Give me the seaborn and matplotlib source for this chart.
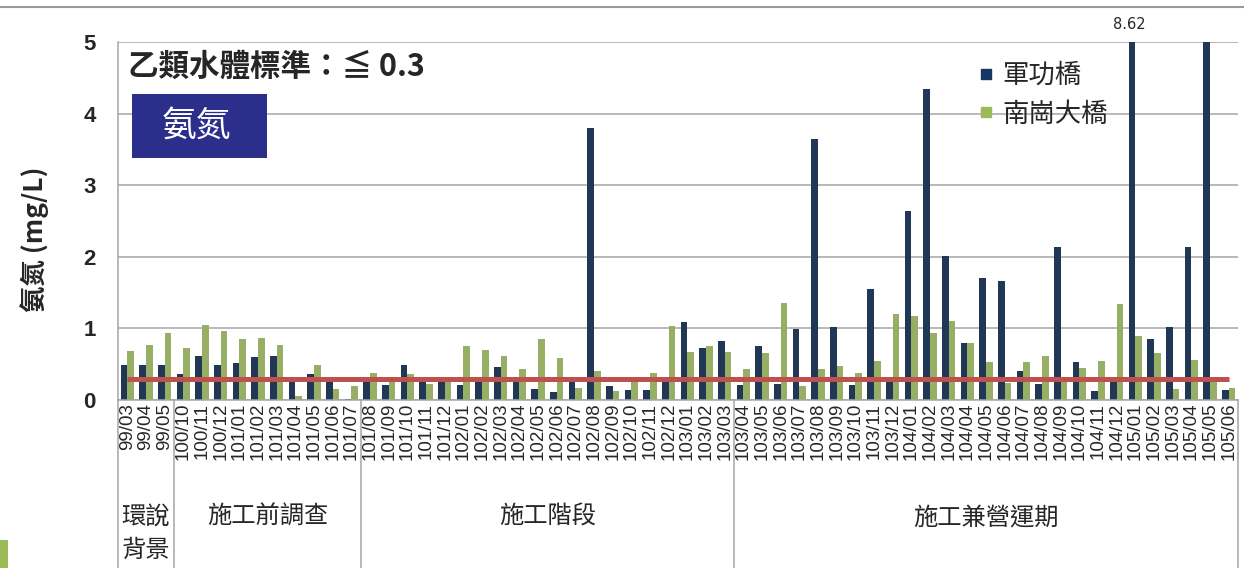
import numpy as np
import pandas as pd
import matplotlib
matplotlib.use("Agg")
import matplotlib.pyplot as plt
from matplotlib.lines import Line2D
from matplotlib.patches import Rectangle
from matplotlib.transforms import blended_transform_factory
import seaborn as sns

# sampling months (ROC year/month)
dates = [
    "99/03", "99/04", "99/05",
    "100/10", "100/11", "100/12", "101/01", "101/02", "101/03", "101/04",
    "101/05", "101/06", "101/07",
    "101/08", "101/09", "101/10", "101/11", "101/12", "102/01", "102/02",
    "102/03", "102/04", "102/05", "102/06", "102/07", "102/08", "102/09",
    "102/10", "102/11", "102/12", "103/01", "103/02", "103/03",
    "103/04", "103/05", "103/06", "103/07", "103/08", "103/09", "103/10",
    "103/11", "103/12", "104/01", "104/02", "104/03", "104/04", "104/05",
    "104/06", "104/07", "104/08", "104/09", "104/10", "104/11", "104/12",
    "105/01", "105/02", "105/03", "105/04", "105/05", "105/06",
]

junggong = [
    0.49, 0.49, 0.49,
    0.36, 0.61, 0.49, 0.52, 0.60, 0.61, 0.30, 0.36, 0.30, 0.02,
    0.29, 0.21, 0.49, 0.26, 0.29, 0.21, 0.29, 0.46, 0.29, 0.15,
    0.11, 0.29, 3.80, 0.19, 0.14, 0.14, 0.29, 1.09, 0.73, 0.83,
    0.21, 0.75, 0.22, 0.99, 3.65, 1.02, 0.21, 1.55, 0.29, 2.64,
    4.34, 2.01, 0.80, 1.70, 1.66, 0.41, 0.22, 2.13, 0.53, 0.13,
    0.29, 8.62, 0.85, 1.02, 2.13, 5.00, 0.14,
]

nangang = [
    0.68, 0.77, 0.93,
    0.73, 1.05, 0.97, 0.85, 0.87, 0.77, 0.05, 0.49, 0.15, 0.19,
    0.38, 0.26, 0.36, 0.22, 0.29, 0.75, 0.70, 0.61, 0.43, 0.85,
    0.58, 0.17, 0.41, 0.13, 0.29, 0.38, 1.04, 0.67, 0.75, 0.67,
    0.43, 0.65, 1.36, 0.19, 0.43, 0.48, 0.38, 0.54, 1.20, 1.17,
    0.93, 1.10, 0.80, 0.53, 0.24, 0.53, 0.61, 0.29, 0.44, 0.54,
    1.34, 0.90, 0.65, 0.15, 0.56, 0.29, 0.17,
]

sites = ["軍功橋", "南崗大橋"]
phases = ["環說\n背景", "施工前調查", "施工階段", "施工兼營運期"]
phase_counts = [3, 10, 20, 27]
limit = 0.3

NAVY = "#17375E"
GREEN = "#9BBB59"
RED = "#C0504D"
GRID = "#A6A6A6"
CJK = ["Noto Sans CJK TC", "DejaVu Sans"]

sns.set_theme(style="white")
plt.rcParams["font.family"] = ["Liberation Sans", "Noto Sans CJK TC", "DejaVu Sans"]

df = pd.DataFrame({
    "date": dates * 2,
    "site": [sites[0]] * len(dates) + [sites[1]] * len(dates),
    "value": junggong + nangang,
})

fig = plt.figure(figsize=(12.44, 5.68), dpi=100)
ax = fig.add_axes([118 / 1244, 1 - 400 / 568, 1120 / 1244, 358 / 568])

sns.barplot(data=df, x="date", y="value", hue="site", order=dates,
            palette=[NAVY, GREEN], width=0.7, linewidth=0, legend=False,
            ax=ax, zorder=2)

n = len(dates)
ax.hlines(limit, 0, n - 1, color=RED, linewidth=3.6, zorder=4)

ax.set_ylim(0, 5)
ax.set_xlim(-0.5, n - 0.5)
ax.set_yticks(range(6))
ax.yaxis.grid(True, color=GRID, linewidth=1.1, zorder=0)
ax.set_axisbelow(True)
for side in ["top", "right"]:
    ax.spines[side].set_visible(False)
for side in ["left", "bottom"]:
    ax.spines[side].set_color(GRID)
    ax.spines[side].set_linewidth(1.1)

ax.tick_params(axis="y", length=0, pad=16, labelsize=16)
for t in ax.get_yticklabels():
    t.set_fontweight("bold")
ax.tick_params(axis="x", length=0, pad=2, labelsize=13.5, rotation=90)
ax.set_xlabel("")
ax.set_ylabel("氨氮 (mg/L)", fontsize=19, fontweight="bold", family=CJK)
ax.yaxis.set_label_coords(-0.062, 0.45)

# value label for the bar that runs off the top
for bar, v in zip(ax.containers[0], junggong):
    if v > 5:
        ax.annotate(f"{v:.2f}", xy=(bar.get_x() + bar.get_width() / 2, 5),
                    xytext=(-2, 7), textcoords="offset points",
                    ha="center", va="bottom", fontsize=10.5,
                    family=["DejaVu Sans"], annotation_clip=False)

# standard text and parameter tag
ax.text(0.009, 0.975, "乙類水體標準：≦ 0.3", transform=ax.transAxes,
        ha="left", va="top", fontsize=22, fontweight="bold", family=CJK,
        zorder=5)
ax.add_patch(Rectangle((0.0125, 0.676), 0.1205, 0.179, transform=ax.transAxes,
                       facecolor="#2B2E8A", edgecolor="none", zorder=5))
ax.text(0.0705, 0.765, "氨氮", transform=ax.transAxes, ha="center",
        va="center", fontsize=25, color="white", family=CJK, zorder=6)

handles = [Line2D([], [], marker="s", linestyle="", markersize=7,
                  color=c) for c in [NAVY, GREEN]]
ax.legend(handles, sites, loc="upper left",
          bbox_to_anchor=(952 / 1244, 1 - 38 / 568),
          bbox_transform=fig.transFigure, frameon=False,
          prop={"family": CJK, "size": 19}, handletextpad=0.2,
          labelspacing=0.45, handlelength=0.8)

# phase table under the axis
trans = blended_transform_factory(ax.transData, fig.transFigure)
y_axis = 1 - 400 / 568
edges = np.concatenate([[0], np.cumsum(phase_counts)]) - 0.5
for e in edges:
    ax.plot([e, e], [y_axis, 0], color=GRID, linewidth=1.1,
            transform=trans, clip_on=False)
for name, lo, hi in zip(phases, edges[:-1], edges[1:]):
    ax.text((lo + hi) / 2, 1 - 533 / 568 if "\n" in name else 1 - 517 / 568,
            name, transform=trans, ha="center", va="center", fontsize=17.5,
            family=CJK, linespacing=1.35)

# slide decorations
fig.add_artist(Line2D([0, 1], [1 - 7 / 568, 1 - 7 / 568], color="#999999",
                      linewidth=1.5, transform=fig.transFigure))
fig.add_artist(Rectangle((0, 0), 8 / 1244, 28 / 568, facecolor=GREEN,
                         edgecolor="none", transform=fig.transFigure))

fig.savefig("out.png", dpi=100)
